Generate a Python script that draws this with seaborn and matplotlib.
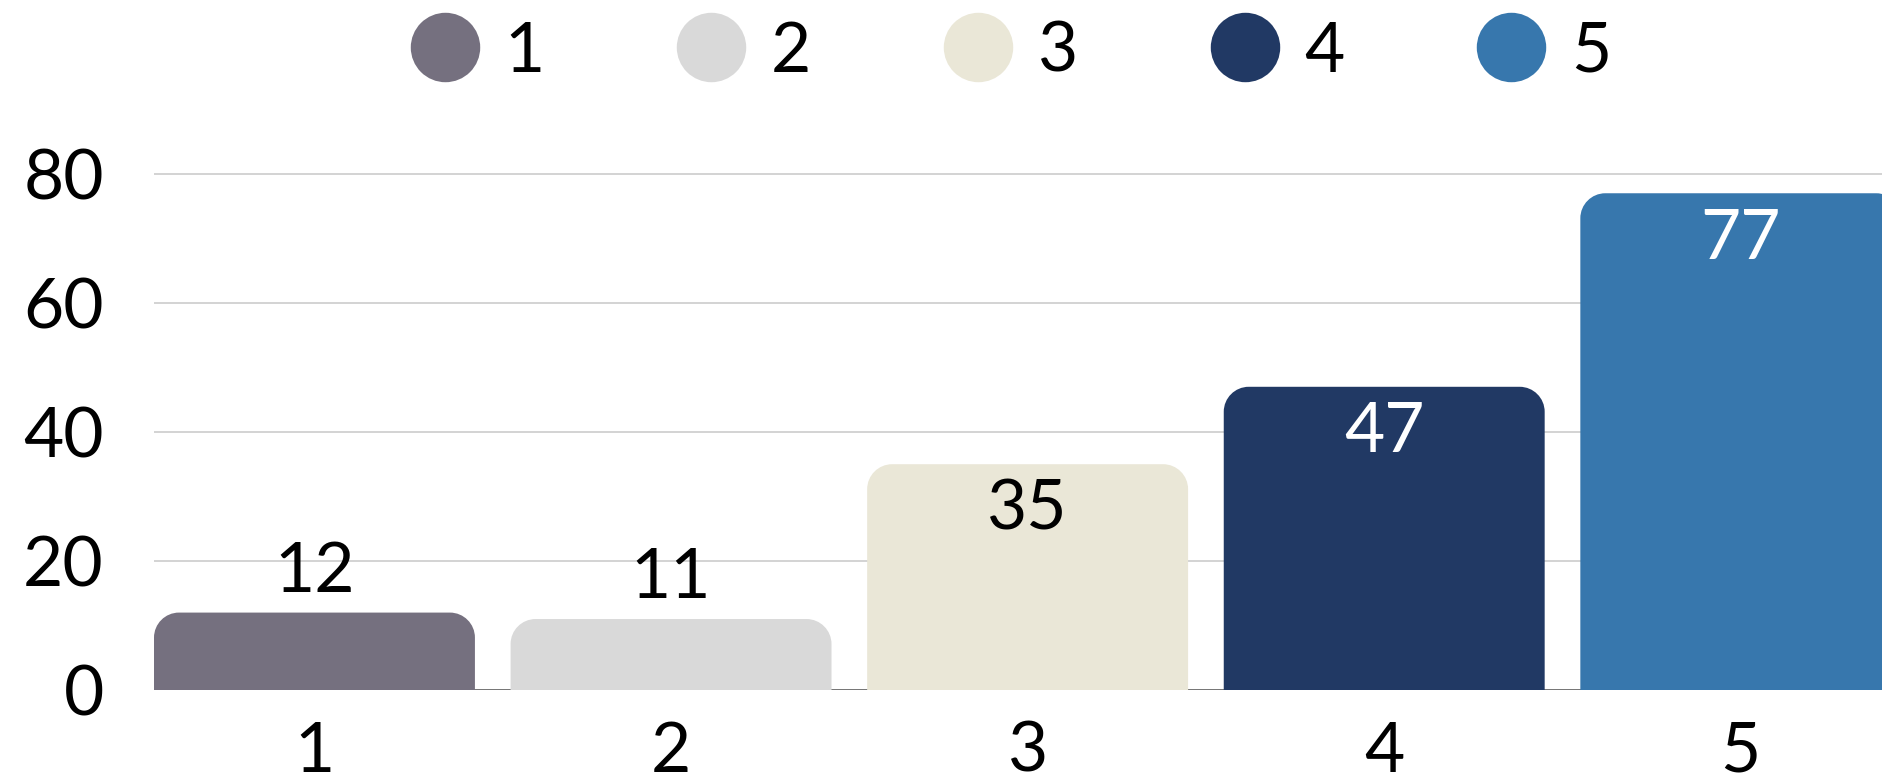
import numpy as np
import pandas as pd
import matplotlib
matplotlib.use("Agg")
import matplotlib.pyplot as plt
from matplotlib.patches import PathPatch
from matplotlib.path import Path
from matplotlib.lines import Line2D
import seaborn as sns

categories = ["1", "2", "3", "4", "5"]
values = [12, 11, 35, 47, 77]
colors = ["#75707F", "#D9D9D9", "#EAE7D7", "#213964", "#3777AD"]
y_ticks = [0, 20, 40, 60, 80]

sns.set_theme(style="white")
plt.rcParams["font.family"] = ["Lato", "DejaVu Sans"]
plt.rcParams["text.color"] = "black"

DPI = 100
fig = plt.figure(figsize=(18.82, 7.81), dpi=DPI)
ax = fig.add_axes([154 / 1882, 91 / 781, 1 - 154 / 1882, 529 / 781])

df = pd.DataFrame({"cat": categories, "val": values})
sns.barplot(data=df, x="cat", y="val", hue="cat", palette=colors,
            width=0.9, saturation=1, legend=False, ax=ax)

ax.set_xlim(-0.45, 4.396)
ax.set_ylim(0, 82)

# px per data unit, to keep the corners circular
px_x = ax.bbox.width / (ax.get_xlim()[1] - ax.get_xlim()[0])
px_y = ax.bbox.height / (ax.get_ylim()[1] - ax.get_ylim()[0])
rad = 25
rx, ry = rad / px_x, rad / px_y
k = 0.5523


def top_rounded(x0, w, h):
    x1 = x0 + w
    verts = [(x0, 0), (x0, h - ry),
             (x0, h - ry + k * ry), (x0 + rx - k * rx, h), (x0 + rx, h),
             (x1 - rx, h),
             (x1 - rx + k * rx, h), (x1, h - ry + k * ry), (x1, h - ry),
             (x1, 0), (x0, 0)]
    codes = [Path.MOVETO, Path.LINETO,
             Path.CURVE4, Path.CURVE4, Path.CURVE4,
             Path.LINETO,
             Path.CURVE4, Path.CURVE4, Path.CURVE4,
             Path.LINETO, Path.CLOSEPOLY]
    return Path(verts, codes)


for p, c in zip(list(ax.patches), colors):
    x0, w, h = p.get_x(), p.get_width(), p.get_height()
    p.set_visible(False)
    ax.add_patch(PathPatch(top_rounded(x0, w, h), fc=c, ec="none", lw=0, zorder=3))

# value labels: inside for tall bars, above for short ones
for i, (v, c) in enumerate(zip(values, colors)):
    rgb = np.array(matplotlib.colors.to_rgb(c))
    lum = 0.299 * rgb[0] + 0.587 * rgb[1] + 0.114 * rgb[2]
    if v >= 20:
        txt_color = "white" if lum < 0.5 else "black"
        ax.annotate(str(v), (i, v), xytext=(0, -33), textcoords="offset points",
                    ha="center", va="center", fontsize=50, color=txt_color, zorder=5)
    else:
        ax.annotate(str(v), (i, v), xytext=(0, 29), textcoords="offset points",
                    ha="center", va="center", fontsize=50, color="black", zorder=5)

ax.set_yticks(y_ticks)
ax.yaxis.grid(True, color="#CCCCCC", linewidth=1.2, zorder=0)
ax.set_axisbelow(True)
ax.axhline(0, color="#666666", linewidth=1.2, zorder=2)
sns.despine(ax=ax, left=True, bottom=True, top=True, right=True)
ax.tick_params(axis="both", length=0, labelsize=50, colors="black")
ax.tick_params(axis="y", pad=36)
ax.tick_params(axis="x", pad=22)
ax.set_xlabel("")
ax.set_ylabel("")

handles = [Line2D([0], [0], marker="o", linestyle="none", markersize=50,
                  markerfacecolor=c, markeredgecolor="none") for c in colors]
leg = fig.legend(handles, categories, loc="center", bbox_to_anchor=(0.537, 1 - 52 / 781),
                 ncol=5, frameon=False, fontsize=50, handlelength=1.0,
                 handletextpad=0.36, columnspacing=1.9, borderpad=0)
for t in leg.get_texts():
    t.set_color("black")

fig.savefig("out.png", dpi=DPI)
